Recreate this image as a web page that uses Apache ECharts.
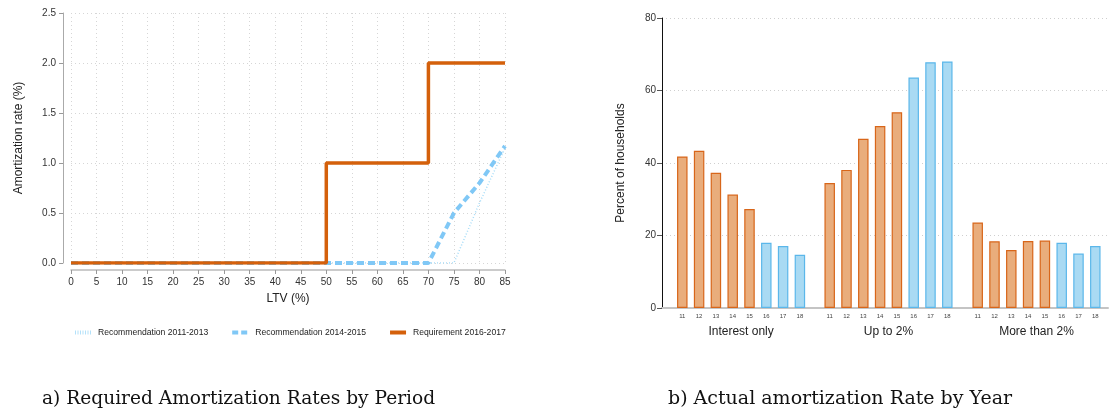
<!DOCTYPE html>
<html>
<head>
<meta charset="utf-8">
<script src="https://cdn.jsdelivr.net/npm/echarts@6/dist/echarts.min.js"></script>
<style>
  html, body { margin: 0; padding: 0; background: #fff; }
  #main { width: 1111px; height: 414px; }
</style>
</head>
<body>
<div id="main"></div>
<script>
// panel a) required amortization by LTV
const rec1113 = [[0, 0], [75, 0], [80, 0.6], [85, 1.15]];
const rec1415 = [[0, 0], [70, 0], [75, 0.5], [80, 0.8], [85, 1.17]];
const req1617 = [[0, 0], [50, 0], [50, 1], [70, 1], [70, 2], [85, 2]];

// panel b) actual amortization by year
const years = ['11', '12', '13', '14', '15', '16', '17', '18'];
const groups = ['Interest only', 'Up to 2%', 'More than 2%'];
const interestOnly = [41.8, 43.4, 37.3, 31.3, 27.3, 18.0, 17.1, 14.7];
const upTo2 = [34.5, 38.1, 46.7, 50.2, 54.0, 63.6, 67.8, 68.0];
const moreThan2 = [23.6, 18.4, 16.0, 18.5, 18.6, 18.0, 15.0, 17.1];
const groupValues = [interestOnly, upTo2, moreThan2];

const FONT = 'Liberation Sans';
const orangeBar = { color: '#e9ad7c', borderColor: '#d8661a', borderWidth: 1.2 };
const blueBar = { color: '#a9daf3', borderColor: '#5bb7ea', borderWidth: 1.2 };

const chart = echarts.init(document.getElementById('main'));

// bar grids positions (one per group)
const groupLeft = [673.9, 821.3, 969.3];
const groupWidth = 134.4;

const grids = [
  { left: 71, width: 434, top: 13, height: 250 },          // panel a
  { left: 662, width: 446, top: 18, height: 290 }          // panel b background axes
];
groupLeft.forEach(l => grids.push({ left: l, width: groupWidth, top: 18, height: 290 }));

const xAxes = [
  {
    gridIndex: 0, type: 'value', min: 0, max: 85, interval: 5, offset: 7,
    name: 'LTV (%)', nameLocation: 'middle', nameGap: 23,
    nameTextStyle: { fontFamily: FONT, fontSize: 12, color: '#222' },
    axisLine: { onZero: false, lineStyle: { color: '#bbb', width: 1.5 } },
    axisTick: { length: 4, lineStyle: { color: '#999' } },
    axisLabel: { fontFamily: FONT, fontSize: 10, color: '#333', margin: 7 },
    splitLine: { show: true, lineStyle: { color: '#d6d6d6', type: [1, 3] } }
  },
  {
    gridIndex: 1, type: 'value', min: 0, max: 1,
    axisLine: { show: true, onZero: false, lineStyle: { color: '#c4c4c4', width: 2 } },
    axisTick: { show: false }, axisLabel: { show: false }, splitLine: { show: false }
  }
];
groups.forEach((g, i) => xAxes.push({
  gridIndex: i + 2, type: 'category', data: years,
  name: g, nameLocation: 'middle', nameGap: 18,
  nameTextStyle: { fontFamily: FONT, fontSize: 12, color: '#222' },
  axisLine: { show: false }, axisTick: { show: false },
  axisLabel: { fontFamily: FONT, fontSize: 6, color: '#444', margin: 5 }
}));

const yAxes = [
  {
    gridIndex: 0, type: 'value', min: 0, max: 2.5, interval: 0.5, offset: 8,
    name: 'Amortization rate (%)', nameLocation: 'middle', nameGap: 38,
    nameTextStyle: { fontFamily: FONT, fontSize: 12, color: '#222' },
    axisLine: { show: true, onZero: false, lineStyle: { color: '#aaa' } },
    axisTick: { show: true, length: 4, lineStyle: { color: '#999' } },
    axisLabel: { fontFamily: FONT, fontSize: 10, color: '#333', margin: 7,
                 formatter: v => v.toFixed(1) },
    splitLine: { show: true, lineStyle: { color: '#d6d6d6', type: [1, 3] } }
  },
  {
    gridIndex: 1, type: 'value', min: 0, max: 80, interval: 20,
    name: 'Percent of households', nameLocation: 'middle', nameGap: 35,
    nameTextStyle: { fontFamily: FONT, fontSize: 12, color: '#222' },
    axisLine: { show: true, onZero: false, lineStyle: { color: '#111' } },
    axisTick: { show: true, length: 5, lineStyle: { color: '#555' } },
    axisLabel: { fontFamily: FONT, fontSize: 10, color: '#333', margin: 6 },
    splitLine: { show: true, lineStyle: { color: '#cfcfcf', type: [1, 3] } }
  }
];
groups.forEach((g, i) => yAxes.push({
  gridIndex: i + 2, type: 'value', min: 0, max: 80, interval: 20, show: false
}));

const series = [
  {
    name: 'Recommendation 2011-2013', type: 'line', xAxisIndex: 0, yAxisIndex: 0,
    data: rec1113, showSymbol: false, symbol: 'none',
    lineStyle: { color: '#a6dcf8', width: 1.5, type: [1, 2] }, itemStyle: { color: '#a6dcf8' }
  },
  {
    name: 'Recommendation 2014-2015', type: 'line', xAxisIndex: 0, yAxisIndex: 0,
    data: rec1415, showSymbol: false, symbol: 'none',
    lineStyle: { color: '#80c8f6', width: 4, type: [7, 4] }, itemStyle: { color: '#80c8f6' }
  },
  {
    name: 'Requirement 2016-2017', type: 'line', xAxisIndex: 0, yAxisIndex: 0,
    data: req1617, showSymbol: false, symbol: 'none',
    lineStyle: { color: '#d4600b', width: 3.5 }, itemStyle: { color: '#d4600b' }
  }
];
groupValues.forEach((vals, i) => series.push({
  type: 'bar', xAxisIndex: i + 2, yAxisIndex: i + 2, barWidth: 10.5,
  data: vals.map((v, k) => ({ value: v, itemStyle: Number(years[k]) <= 15 ? orangeBar : blueBar }))
}));

chart.setOption({
  animation: false,
  backgroundColor: '#fff',
  grid: grids,
  xAxis: xAxes,
  yAxis: yAxes,
  legend: {
    data: [
      { name: 'Recommendation 2011-2013', lineStyle: { width: 4, type: [1, 1.5], color: '#b3e1fa' } },
      { name: 'Recommendation 2014-2015', lineStyle: { width: 4, type: [6, 3] } },
      { name: 'Requirement 2016-2017', lineStyle: { width: 4 } }
    ],
    left: 68, top: 323, itemWidth: 16, itemHeight: 8, itemGap: 22,
    itemStyle: { opacity: 0 },
    textStyle: { fontFamily: FONT, fontSize: 8.6, color: '#222', padding: [0, 0, 0, 2] }
  },
  series: series,
  graphic: [
    { type: 'text', left: 42, top: 390,
      style: { text: 'a) Required Amortization Rates by Period', font: '18.6px "DejaVu Serif"', fill: '#111' } },
    { type: 'text', left: 668, top: 390,
      style: { text: 'b) Actual amortization Rate by Year', font: '19px "DejaVu Serif"', fill: '#111' } }
  ]
});
</script>
</body>
</html>
